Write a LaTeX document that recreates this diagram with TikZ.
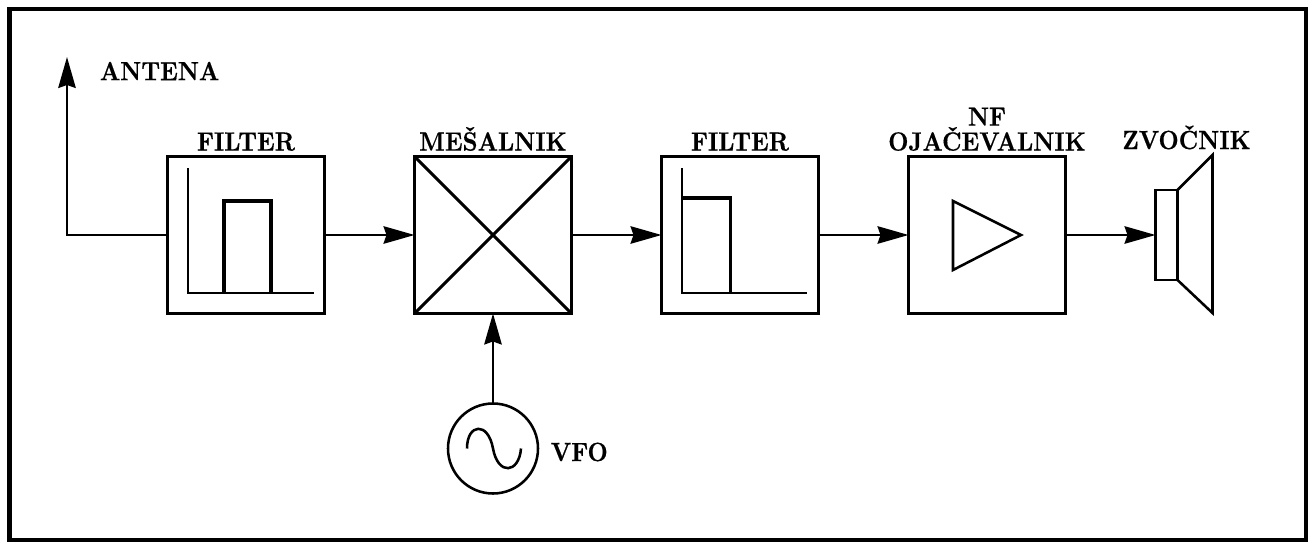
\documentclass[tikz,border=0pt]{standalone}
\usepackage{fontspec}
\usepackage{tikz}
\usetikzlibrary{arrows.meta,calc,positioning}

\newfontfamily\napisfont{lmroman10-bold}[Extension=.otf, FakeStretch=0.89, FakeBold=0.4]

\tikzset{
    blok/.style={rectangle, draw, line width=1.9pt, minimum size=3.14cm, inner sep=0pt, outer sep=0pt},
    napis/.style={font=\fontsize{15}{14.2}\napisfont, inner sep=0pt, align=center},
    vez/.style={line width=1.15pt, -{Stealth[length=0.62cm, width=0.35cm, inset=0.06cm]}},
    znak/.style={line width=1.8pt, line join=miter},
    tanek/.style={line width=1.45pt, line join=miter}
}

\begin{document}
\begin{tikzpicture}[node distance=1.8cm]
    \useasboundingbox (0,0) rectangle (26.32,10.96);
    \node[draw, line width=2.3pt, minimum width=25.93cm, minimum height=10.62cm, inner sep=0pt, outer sep=0pt] (okvir) at (13.155,5.47) {};

    \node[blok] (filter1) at (4.92,6.26) {};
    \node[blok, right=of filter1] (mesalnik) {};
    \node[blok, right=of mesalnik] (filter2) {};
    \node[blok, right=of filter2] (ojacevalnik) {};
    \node[rectangle, draw, tanek, minimum width=0.44cm, minimum height=1.8cm, inner sep=0pt, outer sep=0pt, right=of ojacevalnik] (zvocnik) {};
    \node[circle, draw, tanek, minimum size=1.8cm, inner sep=0pt, outer sep=0pt, below=of mesalnik] (vfo) {};
    \coordinate (antena) at (1.34,9.82);

    \node[napis, above=3pt of filter1] (t1) {FILTER};
    \node[napis, above=3pt of mesalnik] (t2) {MEŠALNIK};
    \node[napis, above=3pt of filter2] (t3) {FILTER};
    \node[napis, above=3pt of ojacevalnik] (t4) {NF\\OJAČEVALNIK};
    \node[napis, above=3pt of zvocnik.north, yshift=0.7cm, xshift=0.4cm] (t5) {ZVOČNIK};
    \node[napis, right=0.25cm of vfo, yshift=-0.07cm] (t6) {VFO};
    \node[napis, anchor=west] (t7) at (1.99,9.54) {ANTENA};

    \draw[vez] (filter1.west) -| (antena);
    \draw[vez] (filter1) -- (mesalnik);
    \draw[vez] (mesalnik) -- (filter2);
    \draw[vez] (filter2) -- (ojacevalnik);
    \draw[vez] (ojacevalnik) -- (zvocnik);
    \draw[vez] (vfo) -- (mesalnik);

    % krizec v mesalniku
    \draw[znak] (mesalnik.north west) -- (mesalnik.south east)
                (mesalnik.south west) -- (mesalnik.north east);

    % pasovno sito
    \draw[line width=1.15pt] ($(filter1)+(-1.16,1.34)$) |- ($(filter1)+(1.36,-1.16)$);
    \draw[znak] ($(filter1)+(-0.44,-1.16)$) |- ($(filter1)+(0.5,0.68)$) -- ($(filter1)+(0.5,-1.16)$);

    % nizko sito
    \draw[line width=1.15pt] ($(filter2)+(-1.16,1.34)$) |- ($(filter2)+(1.34,-1.16)$);
    \draw[znak] ($(filter2)+(-1.16,0.74)$) -| ($(filter2)+(-0.19,-1.14)$);

    % ojacevalnik
    \draw[tanek] ($(ojacevalnik)+(-0.68,0.68)$) -- ($(ojacevalnik)+(0.68,0)$) -- ($(ojacevalnik)+(-0.68,-0.7)$) -- cycle;

    % lijak zvocnika
    \draw[tanek] (zvocnik.north east) -- ($(zvocnik.north east)+(0.7,0.7)$) -- ($(zvocnik.south east)+(0.7,-0.66)$) -- (zvocnik.south east);

    % sinus
    \draw[tanek] ($(vfo)+(-0.52,0)$) .. controls ($(vfo)+(-0.52,0.5)$) and ($(vfo)+(-0.1,0.55)$) .. (vfo.center)
                .. controls ($(vfo)+(0.1,-0.55)$) and ($(vfo)+(0.52,-0.5)$) .. ($(vfo)+(0.56,0)$);
\end{tikzpicture}
\end{document}
